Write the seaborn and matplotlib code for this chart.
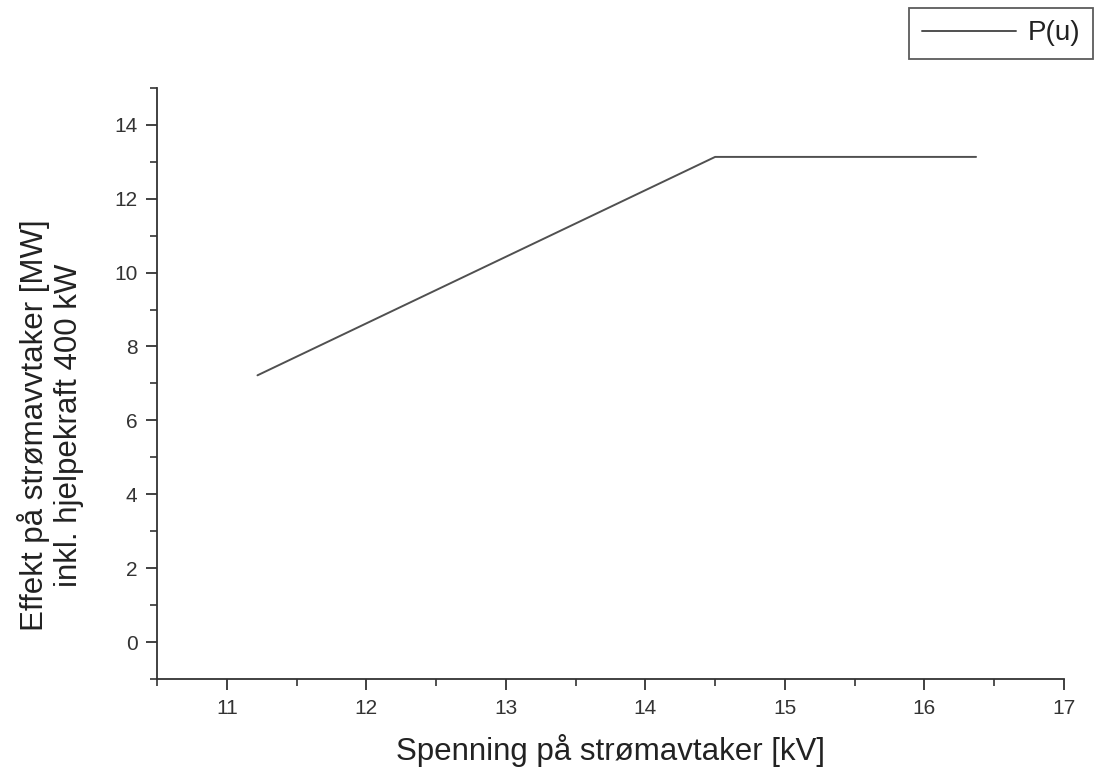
import matplotlib
matplotlib.use("Agg")
import matplotlib.pyplot as plt
from matplotlib.ticker import MultipleLocator
import seaborn as sns
import pandas as pd

# Power at the pantograph as a function of catenary voltage
voltage_kv = [11.22, 14.50, 16.37]
power_mw = [7.22, 13.13, 13.13]
series_label = "P(u)"

sns.set_theme(style="ticks")
plt.rcParams["font.family"] = ["Liberation Sans", "DejaVu Sans"]

df = pd.DataFrame({"u": voltage_kv, "P": power_mw, "serie": series_label})

fig = plt.figure(figsize=(10.98, 7.77), dpi=100)
ax = fig.add_axes([0.143, 0.126, 0.826, 0.761])

sns.lineplot(data=df, x="u", y="P", hue="serie", palette=["#505050"],
             linewidth=1.4, ax=ax, legend=True)

ax.set_xlim(10.5, 17)
ax.set_ylim(-1, 15)
ax.xaxis.set_major_locator(MultipleLocator(1))
ax.xaxis.set_minor_locator(MultipleLocator(0.5))
ax.yaxis.set_major_locator(MultipleLocator(2))
ax.yaxis.set_minor_locator(MultipleLocator(1))
ax.set_xticks(range(11, 18))
ax.set_yticks(range(0, 15, 2))

for side in ("top", "right"):
    ax.spines[side].set_visible(False)
for side in ("left", "bottom"):
    ax.spines[side].set_linewidth(1.3)
    ax.spines[side].set_color("#333333")

ax.tick_params(which="major", direction="out", length=8, width=1.3,
               colors="#333333", labelsize=15, labelcolor="#333333", pad=6)
ax.tick_params(which="minor", direction="out", length=5, width=1.2,
               colors="#333333")

ax.set_xlabel("Spenning på strømavtaker [kV]", fontsize=22.5, color="#222222",
              labelpad=12)
ax.set_ylabel("Effekt på strømavvtaker [MW]\ninkl. hjelpekraft 400 kW",
              fontsize=22.5, color="#222222", labelpad=22, linespacing=1.15)
ax.yaxis.label.set_y(0.43)

leg = ax.legend(loc="upper right", bbox_to_anchor=(0.995, 0.99),
                bbox_transform=fig.transFigure, frameon=True, fancybox=False,
                fontsize=20, handlelength=3.4, borderpad=0.45,
                handletextpad=0.4, borderaxespad=0)
leg.get_frame().set_edgecolor("#333333")
leg.get_frame().set_linewidth(1.3)
for t in leg.get_texts():
    t.set_color("#222222")

fig.savefig("out.png", dpi=100, facecolor="white")
